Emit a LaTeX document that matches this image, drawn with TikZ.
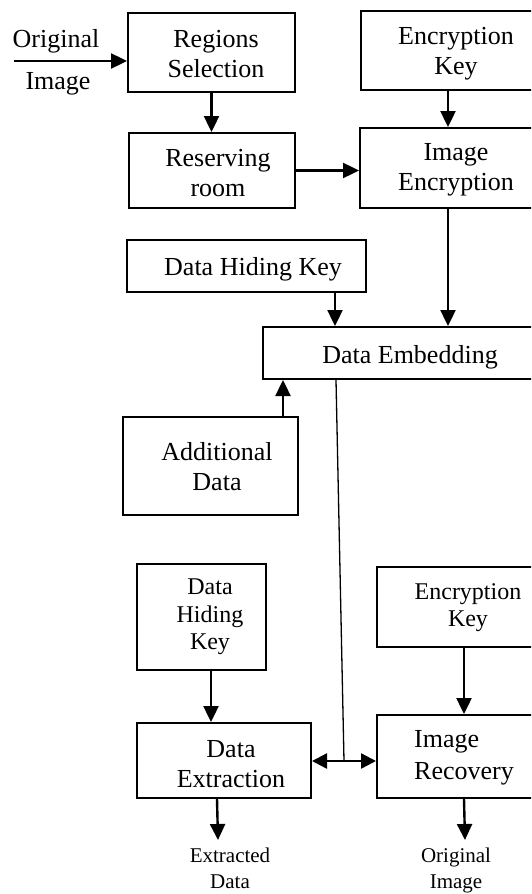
\documentclass[tikz,border=0pt]{standalone}
\usepackage{fontspec}
\setmainfont{Liberation Serif}
\usetikzlibrary{arrows.meta}
\begin{document}
\begin{tikzpicture}[x=1pt,y=-1pt,
  bx/.style 2 args={draw, line width=2pt, inner sep=0pt, minimum width=#1pt, minimum height=#2pt},
  lbl/.style={align=center, inner sep=0pt, font=\fontsize{26}{30}\selectfont},
  arr/.style={-{Triangle[length=16pt,width=15pt]}, line width=2.4pt},
  darr/.style={{Triangle[length=15pt,width=15pt]}-{Triangle[length=15pt,width=15pt]}, line width=2.4pt},
  thinln/.style={line width=1.3pt}]
\useasboundingbox (0,0) rectangle (531,894);
\clip (0,0) rectangle (531,894);
% boxes
\node[bx={167}{79}] (rs) at (211.5,52.5) {};
\node[bx={190}{79}] (ek) at (456,50.5) {};
\node[bx={166}{75}] (rr) at (212,170.5) {};
\node[bx={192}{80}] (ie) at (456,168) {};
\node[bx={239}{52}] (dhk) at (246.5,266) {};
\node[bx={294}{52}] (de) at (410,353) {};
\node[bx={175}{98}] (ad) at (210.5,466) {};
\node[bx={129}{106}] (dhk2) at (201.5,617) {};
\node[bx={182}{80}] (ek2) at (468,607) {};
\node[bx={174}{75}] (dx) at (224,760.5) {};
\node[bx={174}{83}] (ir) at (464,756.5) {};
% texts
\node[lbl] (rsT) at (216,54) {Regions\\Selection};
\node[lbl] (ekT) at (456,54) {Encryption\\Key};
\node[lbl] (rrT) at (218,173) {Reserving\\room};
\node[lbl] (ieT) at (456,170) {Image\\Encryption};
\node[lbl, anchor=base] (dhkT) at (253,275) {Data Hiding Key};
\node[lbl, anchor=base] (deT) at (410,363) {Data Embedding};
\node[lbl] (adT) at (217,467) {Additional\\Data};
\node[lbl, font=\fontsize{24}{27.5}\selectfont] (dhk2T) at (210,617) {Data\\Hiding\\Key};
\node[lbl, font=\fontsize{24}{27}\selectfont] (ek2T) at (468,608) {Encryption\\Key};
\node[lbl] (dxT) at (231,764) {Data\\Extraction};
\node[lbl, align=left, font=\fontsize{26}{32}\selectfont] (irT) at (464,758) {Image\\Recovery};
\node[lbl, anchor=base] (inA) at (56,47) {Original};
\node[lbl, anchor=base] (inB) at (58,89) {Image};
\node[lbl, anchor=north, font=\fontsize{21}{26}\selectfont] (outA) at (230,848) {Extracted\\Data};
\node[lbl, anchor=north, font=\fontsize{21}{26}\selectfont] (outB) at (456,848) {Original\\Image};
% connectors
\coordinate (inp) at (14,61);
\draw[arr] (inp) -- (inp -| rs.west);
\draw[arr] (rs.south) -- (rs.south |- rr.north);
\coordinate (a2) at ([xshift=88pt]ek.south west);
\draw[arr] (a2) -- (a2 |- ie.north);
\draw[arr] (rr.east) -- (rr.east -| ie.west);
\coordinate (a3) at ([xshift=89pt]ie.south west);
\draw[arr] (a3) -- (a3 |- de.north);
\coordinate (a4) at ([xshift=209pt]dhk.south west);
\draw[arr] (a4) -- (a4 |- de.north);
\coordinate (a5) at ([xshift=161pt]ad.north west);
\draw[arr] (a5) -- (a5 |- de.south);
\coordinate (a6) at ([xshift=74pt]de.south west);
\coordinate (jn) at (344,761);
\draw[thinln] (a6) -- (jn);
\draw[darr] (jn -| dx.east) -- (jn -| ir.west);
\coordinate (a7) at ([xshift=75pt]dhk2.south west);
\draw[arr] (a7) -- (a7 |- dx.north);
\coordinate (a8) at ([xshift=88pt]ek2.south west);
\draw[arr] (a8) -- (a8 |- ir.north);
\coordinate (a9) at ([xshift=81pt]dx.south west);
\coordinate (o1) at (218,840);
\draw[arr] (a9) -- (o1);
\coordinate (a10) at ([xshift=88pt]ir.south west);
\coordinate (o2) at (465,840);
\draw[arr] (a10) -- (o2);
\end{tikzpicture}
\end{document}
